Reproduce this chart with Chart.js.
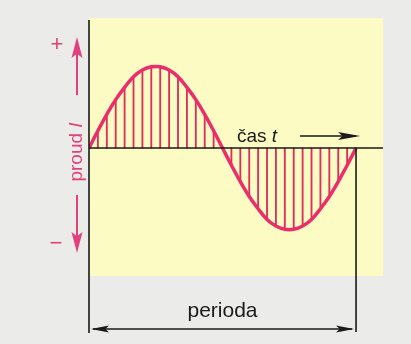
<!DOCTYPE html>
<html>
<head>
<meta charset="utf-8">
<style>
  html, body { margin: 0; padding: 0; background: #ebebe9; }
  #wrap { width: 411px; height: 344px; position: relative; }
</style>
<script src="https://cdn.jsdelivr.net/npm/chart.js@4/dist/chart.umd.min.js"></script>
</head>
<body>
<div id="wrap"><canvas id="c" width="411" height="344"></canvas></div>
<script>
// Time positions (fraction of one period) where the hatch lines stand
const timePoints = [0, 0.0333, 0.0667, 0.1, 0.1333, 0.1667, 0.2, 0.2333, 0.2667, 0.3, 0.3333, 0.3667, 0.4, 0.4333, 0.4667, 0.5,
  0.5333, 0.5667, 0.6, 0.6333, 0.6667, 0.7, 0.7333, 0.7667, 0.8, 0.8333, 0.8667, 0.9, 0.9333, 0.9667, 1];
// Current values (relative to peak amplitude)
const currentValues = [0, 0.21, 0.41, 0.59, 0.74, 0.87, 0.95, 0.99, 0.99, 0.95, 0.87, 0.74, 0.59, 0.41, 0.21, 0,
  -0.21, -0.41, -0.59, -0.74, -0.87, -0.95, -0.99, -0.99, -0.95, -0.87, -0.74, -0.59, -0.41, -0.21, 0];
// Text labels
const timeLabel = "čas ";
const timeSymbol = "t";
const currentLabel = "proud ";
const currentSymbol = "I";
const periodLabel = "perioda";
const plusLabel = "+";
const minusLabel = "−";

const curvePts = timePoints.map((t, i) => ({ x: t, y: currentValues[i] }));

const PINK = '#ec2d6c';
const HATCH = '#d9305e';
const LABEL = '#e2407c';
const FONT = '"Liberation Sans", Arial, sans-serif';

function arrowHead(ctx, x, y, dir, len, half) {
  // dir: 'r','l','u','d'
  ctx.beginPath();
  if (dir === 'r') { ctx.moveTo(x, y); ctx.lineTo(x - len, y - half); ctx.lineTo(x - len * 0.8, y); ctx.lineTo(x - len, y + half); }
  if (dir === 'l') { ctx.moveTo(x, y); ctx.lineTo(x + len, y - half); ctx.lineTo(x + len * 0.8, y); ctx.lineTo(x + len, y + half); }
  if (dir === 'u') { ctx.moveTo(x, y); ctx.lineTo(x - half, y + len); ctx.lineTo(x, y + len * 0.8); ctx.lineTo(x + half, y + len); }
  if (dir === 'd') { ctx.moveTo(x, y); ctx.lineTo(x - half, y - len); ctx.lineTo(x, y - len * 0.8); ctx.lineTo(x + half, y - len); }
  ctx.closePath();
  ctx.fill();
}

const decor = {
  id: 'decor',
  beforeDraw(chart) {
    const ctx = chart.ctx, a = chart.chartArea;
    ctx.save();
    ctx.fillStyle = '#ebebe9';
    ctx.fillRect(0, 0, chart.width, chart.height);
    ctx.fillStyle = '#fcfbc3';
    ctx.fillRect(a.left, a.top, a.right - a.left, a.bottom - a.top);
    ctx.restore();
  },
  afterDatasetsDraw(chart) {
    const ctx = chart.ctx, a = chart.chartArea;
    const xs = chart.scales.x, ys = chart.scales.y;
    const x0 = xs.getPixelForValue(0), x1 = xs.getPixelForValue(1), y0 = ys.getPixelForValue(0);
    ctx.save();
    // axes
    ctx.strokeStyle = '#1a1a1a';
    ctx.lineWidth = 1.6;
    ctx.beginPath();
    ctx.moveTo(a.left, y0); ctx.lineTo(a.right, y0);
    ctx.moveTo(x0, a.top + 2); ctx.lineTo(x0, a.bottom + 57);
    ctx.moveTo(x1, y0); ctx.lineTo(x1, a.bottom + 56);
    ctx.stroke();

    // time arrow
    ctx.fillStyle = '#1a1a1a';
    ctx.lineWidth = 1.6;
    const ay = y0 - 12;
    ctx.beginPath(); ctx.moveTo(x1 - 56, ay); ctx.lineTo(x1, ay); ctx.stroke();
    arrowHead(ctx, x1 + 4, ay, 'r', 22, 4);

    // čas t
    ctx.font = '19px ' + FONT;
    ctx.textBaseline = 'alphabetic';
    ctx.textAlign = 'left';
    const tx = 237, ty = y0 - 6;
    ctx.fillText(timeLabel, tx, ty);
    const w1 = ctx.measureText(timeLabel).width;
    ctx.font = 'italic 19px ' + FONT;
    ctx.fillText(timeSymbol, tx + w1, ty);

    // period arrow
    const py = a.bottom + 53;
    ctx.lineWidth = 1.3;
    ctx.beginPath(); ctx.moveTo(x0 + 4, py); ctx.lineTo(x1 - 4, py); ctx.stroke();
    arrowHead(ctx, x0 + 2, py, 'l', 18, 3.5);
    arrowHead(ctx, x1 - 2, py, 'r', 18, 3.5);
    ctx.font = '21px ' + FONT;
    ctx.textAlign = 'center';
    ctx.fillText(periodLabel, (x0 + x1) / 2, a.bottom + 41);

    // vertical current label
    ctx.fillStyle = LABEL;
    ctx.strokeStyle = LABEL;
    ctx.save();
    ctx.translate(82, 152);
    ctx.rotate(-Math.PI / 2);
    ctx.font = '19px ' + FONT;
    ctx.textAlign = 'left';
    const wA = ctx.measureText(currentLabel).width;
    ctx.font = 'italic 19px ' + FONT;
    const wB = ctx.measureText(currentSymbol).width;
    const start = -(wA + wB) / 2;
    ctx.font = '19px ' + FONT;
    ctx.fillText(currentLabel, start, 0);
    ctx.font = 'italic 19px ' + FONT;
    ctx.fillText(currentSymbol, start + wA, 0);
    ctx.restore();

    // up / down arrows
    ctx.lineWidth = 2;
    ctx.beginPath(); ctx.moveTo(77, 95); ctx.lineTo(77, 50);
    ctx.moveTo(77, 195); ctx.lineTo(77, 240); ctx.stroke();
    arrowHead(ctx, 77, 37, 'u', 21, 5.5);
    arrowHead(ctx, 77, 253, 'd', 21, 5.5);

    // + and −
    ctx.font = '22px ' + FONT;
    ctx.textAlign = 'center';
    ctx.textBaseline = 'middle';
    ctx.fillText(plusLabel, 57, 45);
    ctx.fillText(minusLabel, 56, 244);
    ctx.restore();
  }
};

new Chart(document.getElementById('c'), {
  type: 'line',
  data: {
    datasets: [
      {
        type: 'line',
        data: curvePts,
        borderColor: PINK,
        borderWidth: 3.5,
        pointRadius: 0,
        tension: 0.4,
        fill: false,
        order: 1
      },
      {
        type: 'bar',
        data: curvePts,
        backgroundColor: HATCH,
        borderWidth: 0,
        barThickness: 1.2,
        order: 2
      }
    ]
  },
  options: {
    responsive: false,
    animation: false,
    layout: { padding: { left: 89, right: 28, top: 18, bottom: 68 } },
    plugins: { legend: { display: false }, tooltip: { enabled: false } },
    scales: {
      x: { type: 'linear', min: 0, max: 1.101, display: false, offset: false },
      y: { type: 'linear', min: -1.56, max: 1.585, display: false }
    }
  },
  plugins: [decor]
});
</script>
</body>
</html>
